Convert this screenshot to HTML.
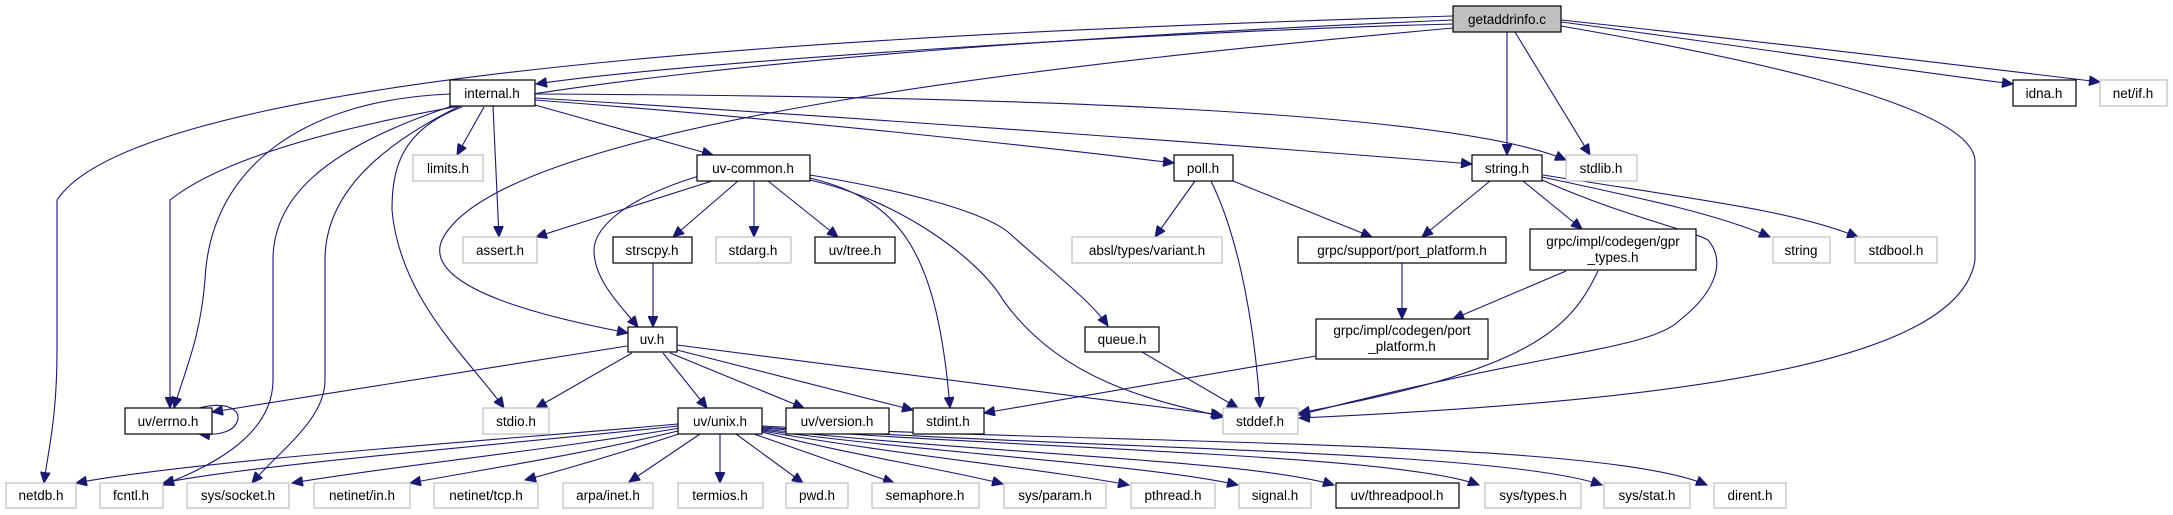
<!DOCTYPE html>
<html><head><meta charset="utf-8"><style>
html,body{margin:0;padding:0;background:#fff;}
svg{display:block;}
text{font-family:"Liberation Sans",sans-serif;font-size:13.5px;fill:#000;text-anchor:middle;}
.b{fill:#fff;stroke:#000;stroke-width:1.2;}
.g{fill:#fff;stroke:#bfbfbf;stroke-width:1.2;}
.e{fill:none;stroke:#191970;stroke-width:1.1;}
</style></head><body>
<svg width="2173" height="515" viewBox="0 0 2173 515" xmlns="http://www.w3.org/2000/svg">
<defs>
<marker id="a" markerUnits="userSpaceOnUse" markerWidth="12" markerHeight="10" refX="11" refY="5" orient="auto">
<path d="M0,0 L11,5 L0,10 Z" fill="#191970" stroke="#191970"/>
</marker>
</defs>
<g class="e" marker-end="url(#a)">
<!-- getaddrinfo.c -->
<path d="M1453,24 C1200,30 700,60 536,84"/>
<path d="M1453,16 C1000,30 150,60 57,200 L57,350 C57,420 48,450 44,483"/>
<path d="M1453,20 C1000,40 320,80 170,200 L170,408"/>
<path d="M1453,28 C1100,60 500,120 442,240 C420,290 560,320 628,333"/>
<path d="M1507,32 L1507,155"/>
<path d="M1515,32 L1590,155"/>
<path d="M1561,22 C1700,40 1900,70 2013,84"/>
<path d="M1561,20 C1750,40 2000,70 2100,82"/>
<path d="M1561,26 C1700,50 1970,100 1975,160 L1975,260 C1960,360 1700,400 1299,418"/>
<!-- internal.h -->
<path d="M484,107 L457,155"/>
<path d="M493,106 L499,237"/>
<path d="M535,105 L713,155"/>
<path d="M535,100 C800,120 1050,148 1174,163"/>
<path d="M535,98 C900,120 1300,150 1472,164"/>
<path d="M535,94 C1000,96 1450,110 1566,160"/>
<path d="M450,94 C300,100 210,170 205,280 C200,340 185,370 174,408"/>
<path d="M452,106 C320,150 273,200 273,260 L273,380 C273,440 200,470 163,485"/>
<path d="M460,106 C370,150 325,200 325,260 L325,380 C325,420 280,450 252,483"/>
<path d="M462,107 C400,130 392,170 392,210 C400,300 470,360 504,408"/>
<!-- uv-common.h -->
<path d="M712,181 L536,237"/>
<path d="M738,181 L673,237"/>
<path d="M754,181 L754,237"/>
<path d="M768,181 L838,237"/>
<path d="M699,176 C620,200 594,230 594,250 C594,280 620,305 638,327"/>
<path d="M810,178 C900,200 937,250 950,408"/>
<path d="M810,180 C900,200 980,260 1003,300 C1060,380 1150,400 1224,417"/>
<path d="M810,175 C900,190 980,210 1008,232 C1050,270 1090,300 1108,326"/>
<!-- strscpy -->
<path d="M653,263 L653,327"/>
<!-- poll.h -->
<path d="M1195,181 L1155,237"/>
<path d="M1211,181 C1240,240 1255,330 1260,408"/>
<path d="M1233,181 L1372,237"/>
<!-- string.h -->
<path d="M1490,181 L1422,237"/>
<path d="M1523,181 L1582,229"/>
<path d="M1542,177 C1650,200 1720,215 1770,237"/>
<path d="M1543,175 C1700,200 1790,210 1858,237"/>
<path d="M1542,180 C1620,215 1690,230 1708,240 C1725,260 1718,290 1680,320 C1650,350 1550,350 1299,415"/>
<!-- grpc -->
<path d="M1402,263 L1402,319"/>
<path d="M1566,271 L1453,319"/>
<path d="M1598,271 C1570,330 1530,370 1299,413"/>
<path d="M1316,356 L984,413"/>
<!-- queue -->
<path d="M1142,352 L1238,408"/>
<!-- uv.h -->
<path d="M627,346 L212,412"/>
<path d="M632,353 L536,408"/>
<path d="M663,353 L707,408"/>
<path d="M670,353 L804,408"/>
<path d="M677,350 L913,410"/>
<path d="M677,345 L1222,415"/>
<!-- uv/errno self -->
<path d="M199,408 C230,400 242,412 237,422 C234,430 222,436 199,434"/>
<!-- uv/unix.h -->
<path d="M678,424 C500,440 200,460 76,483"/>
<path d="M678,426 C500,445 250,465 163,483"/>
<path d="M680,428 C550,450 400,465 292,483"/>
<path d="M682,430 C580,455 480,470 410,483"/>
<path d="M685,432 C630,450 570,468 525,480"/>
<path d="M700,434 L629,482"/>
<path d="M720,434 L720,483"/>
<path d="M736,434 L803,483"/>
<path d="M754,434 L894,483"/>
<path d="M762,432 C850,455 950,470 1003,484"/>
<path d="M762,431 C900,455 1050,470 1129,485"/>
<path d="M762,430 C950,455 1150,465 1238,485"/>
<path d="M762,429 C1000,455 1250,460 1334,485"/>
<path d="M762,428 C1050,450 1400,455 1479,485"/>
<path d="M762,427 C1100,450 1500,450 1602,485"/>
<path d="M762,426 C1150,445 1600,440 1707,485"/>
</g>
<!-- nodes -->
<rect x="1453" y="6" width="108" height="26" fill="#bfbfbf" stroke="#000" stroke-width="1.2"/><text x="1507" y="24">getaddrinfo.c</text>
<rect class="b" x="450" y="80" width="85" height="26"/><text x="492" y="98">internal.h</text>
<rect class="b" x="2013" y="80" width="63" height="26"/><text x="2044" y="98">idna.h</text>
<rect class="g" x="2100" y="80" width="67" height="26"/><text x="2133" y="98">net/if.h</text>
<rect class="g" x="413" y="155" width="70" height="26"/><text x="448" y="173">limits.h</text>
<rect class="b" x="697" y="155" width="113" height="26"/><text x="753" y="173">uv-common.h</text>
<rect class="b" x="1174" y="155" width="59" height="26"/><text x="1203" y="173">poll.h</text>
<rect class="b" x="1472" y="155" width="70" height="26"/><text x="1507" y="173">string.h</text>
<rect class="g" x="1566" y="155" width="71" height="26"/><text x="1601" y="173">stdlib.h</text>
<rect class="g" x="463" y="237" width="74" height="26"/><text x="500" y="255">assert.h</text>
<rect class="b" x="613" y="237" width="79" height="26"/><text x="652" y="255">strscpy.h</text>
<rect class="g" x="716" y="237" width="75" height="26"/><text x="753" y="255">stdarg.h</text>
<rect class="b" x="815" y="237" width="80" height="26"/><text x="855" y="255">uv/tree.h</text>
<rect class="g" x="1072" y="237" width="150" height="26"/><text x="1147" y="255">absl/types/variant.h</text>
<rect class="b" x="1298" y="237" width="208" height="26"/><text x="1402" y="255">grpc/support/port_platform.h</text>
<rect class="b" x="1530" y="229" width="166" height="41"/><text x="1613" y="246">grpc/impl/codegen/gpr</text><text x="1613" y="262">_types.h</text>
<rect class="g" x="1773" y="237" width="57" height="26"/><text x="1801" y="255">string</text>
<rect class="g" x="1855" y="237" width="82" height="26"/><text x="1896" y="255">stdbool.h</text>
<rect class="b" x="628" y="327" width="49" height="25"/><text x="652" y="344">uv.h</text>
<rect class="b" x="1085" y="327" width="74" height="25"/><text x="1122" y="344">queue.h</text>
<rect class="b" x="1316" y="319" width="172" height="40"/><text x="1402" y="335">grpc/impl/codegen/port</text><text x="1402" y="351">_platform.h</text>
<rect class="b" x="125" y="408" width="87" height="26"/><text x="168" y="426">uv/errno.h</text>
<rect class="g" x="483" y="408" width="66" height="26"/><text x="516" y="426">stdio.h</text>
<rect class="b" x="678" y="408" width="84" height="26"/><text x="720" y="426">uv/unix.h</text>
<rect class="b" x="786" y="408" width="103" height="26"/><text x="837" y="426">uv/version.h</text>
<rect class="b" x="913" y="408" width="71" height="26"/><text x="948" y="426">stdint.h</text>
<rect class="g" x="1223" y="408" width="75" height="26"/><text x="1260" y="426">stddef.h</text>
<rect class="g" x="6" y="483" width="70" height="25"/><text x="41" y="500">netdb.h</text>
<rect class="g" x="100" y="483" width="63" height="25"/><text x="131" y="500">fcntl.h</text>
<rect class="g" x="187" y="483" width="102" height="25"/><text x="238" y="500">sys/socket.h</text>
<rect class="g" x="314" y="483" width="96" height="25"/><text x="362" y="500">netinet/in.h</text>
<rect class="g" x="434" y="483" width="104" height="25"/><text x="486" y="500">netinet/tcp.h</text>
<rect class="g" x="563" y="483" width="90" height="25"/><text x="608" y="500">arpa/inet.h</text>
<rect class="g" x="678" y="483" width="85" height="25"/><text x="720" y="500">termios.h</text>
<rect class="g" x="786" y="483" width="62" height="25"/><text x="817" y="500">pwd.h</text>
<rect class="g" x="872" y="483" width="107" height="25"/><text x="925" y="500">semaphore.h</text>
<rect class="g" x="1004" y="483" width="102" height="25"/><text x="1055" y="500">sys/param.h</text>
<rect class="g" x="1131" y="483" width="84" height="25"/><text x="1173" y="500">pthread.h</text>
<rect class="g" x="1239" y="483" width="72" height="25"/><text x="1275" y="500">signal.h</text>
<rect class="b" x="1336" y="483" width="123" height="25"/><text x="1397" y="500">uv/threadpool.h</text>
<rect class="g" x="1485" y="483" width="96" height="25"/><text x="1533" y="500">sys/types.h</text>
<rect class="g" x="1604" y="483" width="86" height="25"/><text x="1647" y="500">sys/stat.h</text>
<rect class="g" x="1714" y="483" width="72" height="25"/><text x="1750" y="500">dirent.h</text>
</svg>
</body></html>
